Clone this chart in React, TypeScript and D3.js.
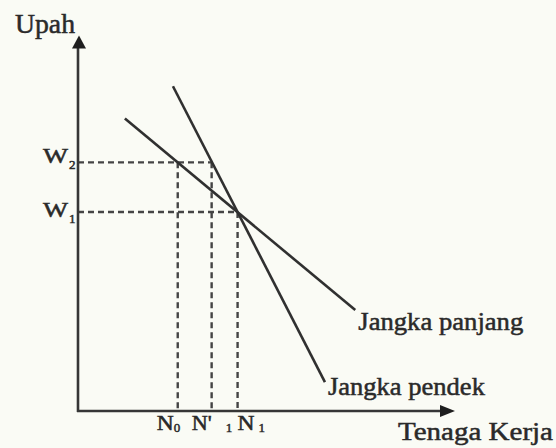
import React from 'react';
import * as d3 from 'd3';

// wage levels on the vertical axis
const wageNames = ['W1', 'W2'];
const wageValues = [4, 5];

// labour quantities on the horizontal axis, and the wage each is read at
const labourNames = ['N0', "N'1", 'N1'];
const labourValues = [5, 6.7, 8];
const labourWages = [5, 5, 4];

// demand curves (two end points each)
const longRunX = [2.35, 13.9];
const longRunY = [5.88, 2.03];
const shortRunX = [4.76, 12.38];
const shortRunY = [6.53, 0.58];

const curveNames = ['Jangka panjang', 'Jangka pendek'];
const xTitle = 'Tenaga Kerja';
const yTitle = 'Upah';

const W = 556;
const H = 448;
const font = '"Liberation Serif", "DejaVu Serif", serif';
const ink = '#2a2a2a';

const App = () => {
  const x = d3.scaleLinear().domain([0, 19]).range([78, 457]);
  const y = d3.scaleLinear().domain([0, 7.5]).range([411, 38]);

  const line = d3.line<[number, number]>()
    .x(d => x(d[0]))
    .y(d => y(d[1]));

  const curves = [
    d3.zip(longRunX, longRunY) as [number, number][],
    d3.zip(shortRunX, shortRunY) as [number, number][],
  ];

  const x0 = x(0);
  const y0 = y(0);
  const xEnd = x(18.9);
  const yEnd = y(7.55);

  const wageNudge = [5, 1];
  const labourNudge = [-21, -20, 0];
  const labourSubGap = [0, 14, 4];

  return (
    <div style={{ position: 'absolute', left: 0, top: 0 }}>
      <svg width={W} height={H} style={{ display: 'block' }}>
        <rect width={W} height={H} fill="#fafbf5" />

        {/* dashed guides */}
        <g stroke="#444" strokeWidth={2.4} strokeDasharray="6,4" fill="none">
          {wageValues.map((w, i) => {
            const reach = d3.max(labourValues.filter((_, j) => labourWages[j] === w)) ?? 0;
            return <line key={'h' + i} x1={x0} x2={x(reach)} y1={y(w)} y2={y(w)} />;
          })}
          {labourValues.map((n, i) => (
            <line key={'v' + i} x1={x(n)} x2={x(n)} y1={y(labourWages[i])} y2={y0} />
          ))}
        </g>

        {/* axes */}
        <g stroke="#363636" strokeWidth={2.6}>
          <line x1={x0} x2={x0} y1={y0 + 1} y2={yEnd + 10} />
          <line x1={x0 - 1} x2={xEnd - 10} y1={y0} y2={y0} />
        </g>
        <path
          d={`M${x0 + 1},${yEnd} L${x0 - 6},${yEnd + 13} L${x0 + 8},${yEnd + 13} Z`}
          fill="#1e1e1e"
        />
        <path
          d={`M${xEnd},${y0} L${xEnd - 15},${y0 - 6} L${xEnd - 15},${y0 + 6} Z`}
          fill="#1e1e1e"
        />

        {/* demand curves */}
        {curves.map((c, i) => (
          <path key={i} d={line(c) ?? ''} stroke="#303030" strokeWidth={2.6} fill="none" />
        ))}

        <g fontFamily={font} fill={ink} stroke={ink} strokeWidth={0.5}>
          {/* curve labels */}
          {curves.map((c, i) => {
            const end = c[c.length - 1];
            return (
              <text
                key={i}
                x={x(end[0]) + 3}
                y={y(end[1]) + 20 - i * 7}
                fontSize={25}
                textLength={i === 0 ? 165 : 157}
                lengthAdjust="spacingAndGlyphs"
              >
                {curveNames[i]}
              </text>
            );
          })}

          {/* axis titles */}
          <text x={15} y={33} fontSize={27} textLength={60} lengthAdjust="spacingAndGlyphs">
            {yTitle}
          </text>
          <text x={398} y={440} fontSize={26} textLength={155} lengthAdjust="spacingAndGlyphs">
            {xTitle}
          </text>

          {/* wage labels */}
          {wageValues.map((w, i) => (
            <g key={i}>
              <text
                x={43}
                y={y(w) + wageNudge[i]}
                fontSize={21}
                textLength={25}
                lengthAdjust="spacingAndGlyphs"
              >
                {wageNames[i].slice(0, -1)}
              </text>
              <text x={69} y={y(w) + wageNudge[i] + 6} fontSize={13}>
                {wageNames[i].slice(-1)}
              </text>
            </g>
          ))}

          {/* labour labels */}
          {labourValues.map((n, i) => {
            const base = labourNames[i].slice(0, -1);
            const sub = labourNames[i].slice(-1);
            const left = x(n) + labourNudge[i];
            const baseW = base.length > 1 ? 20 : 17;
            return (
              <g key={i}>
                <text x={left} y={430} fontSize={20} textLength={baseW} lengthAdjust="spacingAndGlyphs">
                  {base}
                </text>
                <text x={left + baseW + labourSubGap[i]} y={432} fontSize={13}>
                  {sub}
                </text>
              </g>
            );
          })}
        </g>
      </svg>
    </div>
  );
};

export default App;
